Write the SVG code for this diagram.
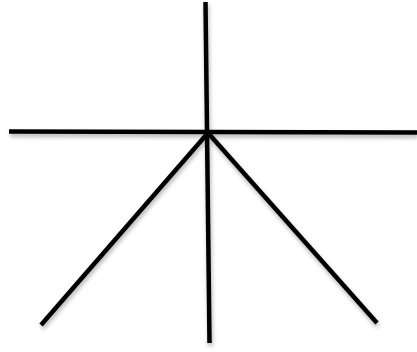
<svg xmlns="http://www.w3.org/2000/svg" width="417" height="352" viewBox="0 0 417 352">
<defs>
<filter id="sh" x="-20%" y="-20%" width="140%" height="140%">
<feDropShadow dx="1" dy="3" stdDeviation="2" flood-color="#000" flood-opacity="0.3"/>
</filter>
<style>
.s{stroke:#000;stroke-width:4.5;fill:none;stroke-linecap:butt}
</style>
</defs>
<rect width="417" height="352" fill="#fff"/>
<g id="connectors" filter="url(#sh)">
<line class="s" x1="205.5" y1="2" x2="209.5" y2="343"/>
<line class="s" x1="9" y1="131.5" x2="417" y2="132.5"/>
<line class="s" x1="207" y1="134" x2="41" y2="325"/>
<line class="s" x1="209" y1="134" x2="377" y2="323"/>
</g>
</svg>
